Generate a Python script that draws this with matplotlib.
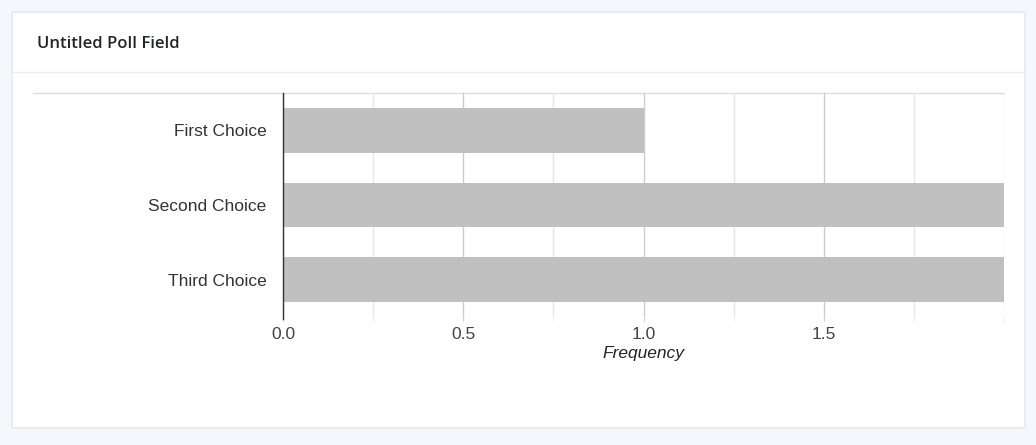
#!/usr/bin/env python3
"""Poll result card: horizontal bar chart of choice frequencies."""

import matplotlib
matplotlib.use("Agg")
import matplotlib.pyplot as plt
from matplotlib.patches import FancyBboxPatch
from matplotlib.lines import Line2D

title = "Untitled Poll Field"
choices = ["First Choice", "Second Choice", "Third Choice"]
counts = [1, 2, 2]
major_ticks = [0.0, 0.5, 1.0, 1.5]
minor_ticks = [0.25, 0.75, 1.25, 1.75, 2.0]

W, H = 1036, 445
fig = plt.figure(figsize=(W / 100, H / 100), dpi=100)
fig.patch.set_facecolor("#f4f7fb")


def fx(px):
    return px / W


def fy(py):
    return 1 - py / H


# card
card = FancyBboxPatch((fx(12), fy(428)), fx(1025) - fx(12), fy(12) - fy(428),
                      boxstyle="round,pad=0,rounding_size=0.004",
                      transform=fig.transFigure, facecolor="white",
                      edgecolor="#e2e6ec", linewidth=1.0, zorder=-2)
fig.patches.append(card)
fig.lines.append(Line2D([fx(13), fx(1024)], [fy(71.5), fy(71.5)],
                        transform=fig.transFigure, color="#e9ecef", lw=1.0, zorder=-1))
fig.text(fx(37), fy(44), title, fontsize=12, fontweight="semibold",
         family="Open Sans", color="#212529", va="center", ha="left")

# top border of the plot grid extends left past the axis
fig.lines.append(Line2D([fx(33), fx(1004)], [fy(92.5), fy(92.5)],
                        transform=fig.transFigure, color="#dddddd", lw=1.0, zorder=-1))

ax = fig.add_axes([fx(283), fy(317), fx(1004) - fx(283), fy(93) - fy(317)])
ax.set_zorder(1)
ax.set_facecolor("none")
y = list(range(len(choices)))
ax.barh(y, counts, height=0.6, color="#c0c0c0", zorder=2)
ax.set_ylim(len(choices) - 0.5, -0.5)
ax.set_xlim(0, 2)
ax.set_yticks(y)
ax.set_yticklabels(choices, family="Liberation Sans", fontsize=12.5, color="#333333")
ax.set_xticks(major_ticks)
ax.set_xticklabels([f"{t:.1f}" for t in major_ticks], family="Liberation Sans",
                   fontsize=12.5, color="#444444")
ax.set_xticks(minor_ticks, minor=True)
ax.grid(True, axis="x", which="major", color="#cccccc", lw=1.0, zorder=1)
ax.grid(True, axis="x", which="minor", color="#e6e6e6", lw=1.0, zorder=1)
ax.set_axisbelow(True)
ax.tick_params(axis="y", length=0, pad=12)
ax.tick_params(axis="x", which="major", length=3, color="#cccccc", pad=4)
ax.tick_params(axis="x", which="minor", length=3, color="#e6e6e6")
for side in ["top", "right", "bottom"]:
    ax.spines[side].set_visible(False)
ax.spines["left"].set_color("#333333")
ax.spines["left"].set_linewidth(1.0)
ax.spines["left"].set_bounds(len(choices) - 0.5 + 0.03, -0.5)
ax.set_xlabel("Frequency", family="Liberation Sans", fontsize=12.5,
              style="italic", color="#222222", labelpad=3)

fig.savefig("out.png", dpi=100, facecolor=fig.get_facecolor())
